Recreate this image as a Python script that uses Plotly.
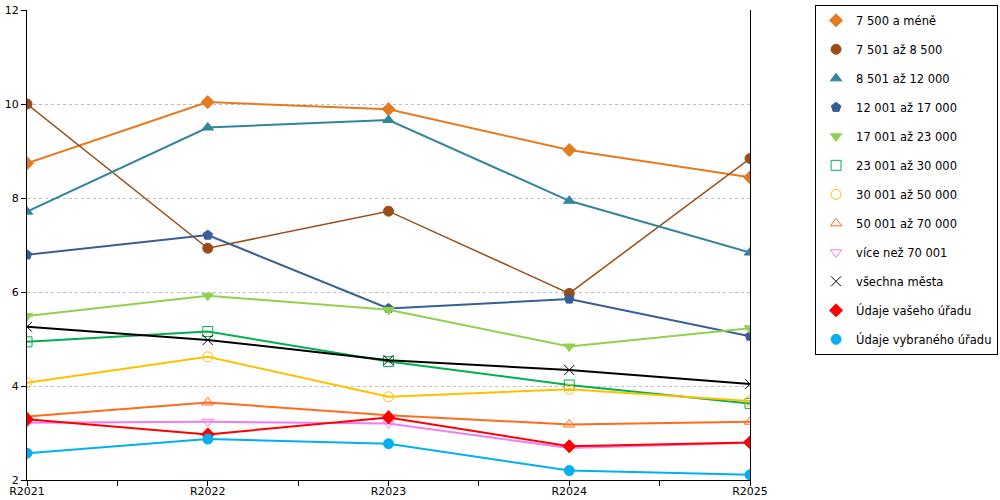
import plotly.graph_objects as go

# years shown on the x axis
years = ["R2021", "R2022", "R2023", "R2024", "R2025"]

# series values
s_7500 = [8.74, 10.04, 9.89, 9.02, 8.44]
s_8500 = [10.00, 6.93, 7.72, 5.97, 8.84]
s_12000 = [7.71, 9.50, 9.66, 7.94, 6.84]
s_17000 = [6.79, 7.21, 5.65, 5.85, 5.06]
s_23000 = [5.49, 5.92, 5.62, 4.84, 5.23]
s_30000 = [4.94, 5.16, 4.52, 4.02, 3.63]
s_50000 = [4.07, 4.62, 3.77, 3.93, 3.68]
s_70000 = [3.35, 3.65, 3.38, 3.18, 3.24]
s_over = [3.22, 3.24, 3.20, 2.68, 2.79]
s_all = [5.26, 4.98, 4.55, 4.34, 4.04]
s_yours = [3.29, 2.97, 3.33, 2.72, 2.80]
s_chosen = [2.57, 2.87, 2.77, 2.20, 2.11]

series = [
    ("7 500 a méně", s_7500, "#E57A1E", "diamond", 2),
    ("7 501 až 8 500", s_8500, "#9A4D16", "circle", 1.5),
    ("8 501 až 12 000", s_12000, "#31859C", "triangle-up", 2),
    ("12 001 až 17 000", s_17000, "#375F93", "pentagon", 2),
    ("17 001 až 23 000", s_23000, "#92D050", "triangle-down", 2),
    ("23 001 až 30 000", s_30000, "#00B050", "square-open", 2),
    ("30 001 až 50 000", s_50000, "#FFC000", "circle-open", 2),
    ("50 001 až 70 000", s_70000, "#FF6D1A", "triangle-up-open", 2),
    ("více než 70 001", s_over, "#F47CF0", "triangle-down-open", 2),
    ("všechna města", s_all, "#000000", "x-thin-open", 2),
    ("Údaje vašeho úřadu", s_yours, "#FF0000", "diamond", 2),
    ("Údaje vybraného úřadu", s_chosen, "#00B0F0", "circle", 2),
]

xs = list(range(len(years)))

fig = go.Figure()
for i, (name, vals, color, symbol, width) in enumerate(series):
    fig.add_trace(go.Scatter(
        x=xs, y=vals, mode="lines", name=name,
        line=dict(color=color, width=width),
        showlegend=False, hoverinfo="skip",
    ))
    fig.add_trace(go.Scatter(
        x=xs, y=vals, mode="markers", name=name,
        legendgroup="g%d" % i,
        marker=dict(symbol=symbol, size=10, color=color,
                    line=dict(color=color, width=1)),
    ))

fig.update_layout(
    width=1000, height=500,
    margin=dict(l=27, r=250, t=10, b=20, autoexpand=False),
    paper_bgcolor="white", plot_bgcolor="white",
    font=dict(family="DejaVu Sans", size=11, color="black"),
    legend=dict(
        x=1.090, y=1.011, xanchor="left", yanchor="top",
        bordercolor="black", borderwidth=1,
        tracegroupgap=10, itemwidth=30, maxheight=1,
        font=dict(size=11.5),
    ),
)
fig.update_xaxes(
    range=[0, len(years) - 1], automargin=False,
    tickvals=xs, ticktext=years, ticklabelstandoff=-4,
    ticks="outside", ticklen=5, tickcolor="black",
    minor=dict(dtick=0.5, ticks="outside", ticklen=5, tickcolor="black"),
    showline=True, linecolor="black", linewidth=1,
    showgrid=False, zeroline=False,
)
fig.update_yaxes(
    range=[2, 12], dtick=2, automargin=False,
    ticks="outside", ticklen=5, tickcolor="black",
    showline=True, linecolor="black", linewidth=1, mirror=True,
    showgrid=True, gridcolor="#C0C0C0", griddash="dot", gridwidth=1,
    zeroline=False,
)

# drop the browser's default body margin so the figure fills the window
fig.write_html(
    "out.html",
    config={"displayModeBar": False},
    post_script="document.body.style.margin = '0';",
)
